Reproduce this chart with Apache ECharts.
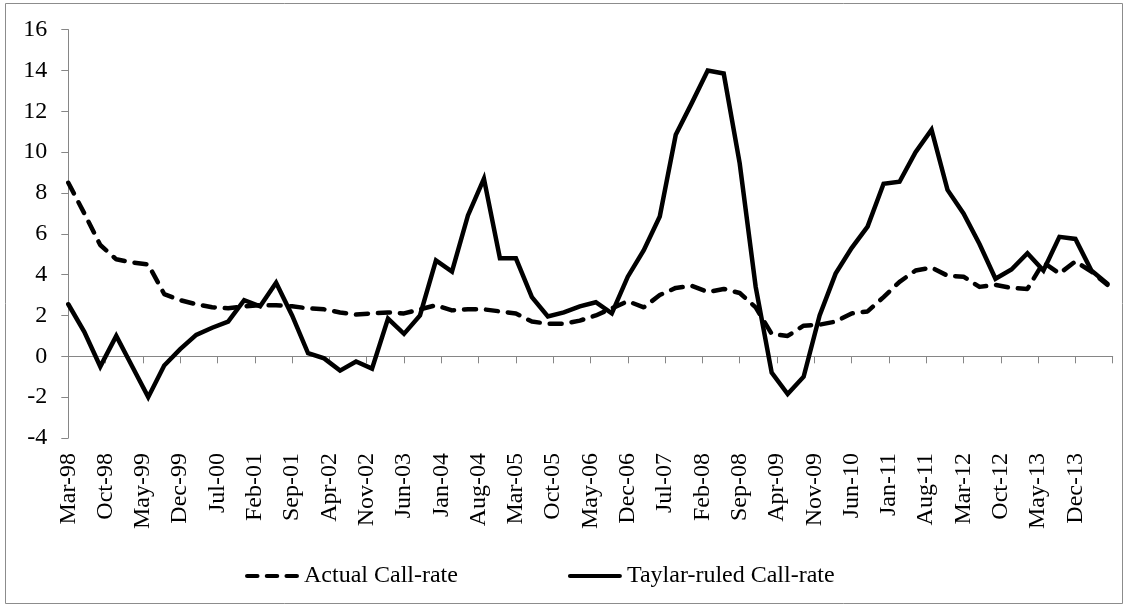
<!DOCTYPE html>
<html>
<head>
<meta charset="utf-8">
<script src="https://cdn.jsdelivr.net/npm/echarts@6/dist/echarts.min.js"></script>
<style>
html,body{margin:0;padding:0;background:#fff;}
#chart{width:1129px;height:608px;}
</style>
</head>
<body>
<div id="chart"></div>
<script>
// Quarterly observation dates
const quarters = [
  'Mar-98','Jun-98','Sep-98','Dec-98',
  'Mar-99','Jun-99','Sep-99','Dec-99',
  'Mar-00','Jun-00','Sep-00','Dec-00',
  'Mar-01','Jun-01','Sep-01','Dec-01',
  'Mar-02','Jun-02','Sep-02','Dec-02',
  'Mar-03','Jun-03','Sep-03','Dec-03',
  'Mar-04','Jun-04','Sep-04','Dec-04',
  'Mar-05','Jun-05','Sep-05','Dec-05',
  'Mar-06','Jun-06','Sep-06','Dec-06',
  'Mar-07','Jun-07','Sep-07','Dec-07',
  'Mar-08','Jun-08','Sep-08','Dec-08',
  'Mar-09','Jun-09','Sep-09','Dec-09',
  'Mar-10','Jun-10','Sep-10','Dec-10',
  'Mar-11','Jun-11','Sep-11','Dec-11',
  'Mar-12','Jun-12','Sep-12','Dec-12',
  'Mar-13','Jun-13','Sep-13','Dec-13',
  'Mar-14','Jun-14'
];
// Actual Call-rate
const actualCallRate = [
  8.5, 7.0, 5.45, 4.75, 4.6, 4.5, 3.05, 2.75, 2.55, 2.4, 2.35, 2.45,
  2.5, 2.5, 2.45, 2.35, 2.3, 2.15, 2.05, 2.1, 2.15, 2.1, 2.3, 2.5,
  2.25, 2.3, 2.3, 2.2, 2.1, 1.7, 1.6, 1.6, 1.75, 2.0, 2.35, 2.7,
  2.4, 3.0, 3.35, 3.45, 3.15, 3.3, 3.1, 2.4, 1.1, 1.0, 1.5, 1.55,
  1.7, 2.1, 2.2, 2.9, 3.65, 4.2, 4.35, 3.95, 3.9, 3.4, 3.5, 3.35,
  3.3, 4.6, 4.05, 4.65, 4.15, 3.5
];
// Taylar-ruled Call-rate
const taylorCallRate = [
  2.55, 1.2, -0.5, 1.0, -0.5, -2.0, -0.45, 0.35, 1.05, 1.4, 1.7, 2.75,
  2.45, 3.6, 2.0, 0.15, -0.1, -0.7, -0.25, -0.6, 1.85, 1.1, 2.0, 4.7,
  4.15, 6.9, 8.7, 4.8, 4.8, 2.9, 1.95, 2.15, 2.45, 2.65, 2.1, 3.9,
  5.2, 6.85, 10.85, 12.4, 14.0, 13.85, 9.45, 3.4, -0.8, -1.85, -1.0, 2.0,
  4.05, 5.3, 6.35, 8.45, 8.55, 10.0, 11.1, 8.15, 7.0, 5.5, 3.8, 4.25,
  5.05, 4.2, 5.85, 5.75, 4.2, 3.55
];
// X-axis tick labels (every 7 months from Mar-98)
const tickLabels = [
  'Mar-98','Oct-98','May-99','Dec-99','Jul-00','Feb-01','Sep-01','Apr-02',
  'Nov-02','Jun-03','Jan-04','Aug-04','Mar-05','Oct-05','May-06','Dec-06',
  'Jul-07','Feb-08','Sep-08','Apr-09','Nov-09','Jun-10','Jan-11','Aug-11',
  'Mar-12','Oct-12','May-13','Dec-13'
];
const yTicks = { min: -4, max: 16, step: 2 };
const seriesNames = ['Actual Call-rate', 'Taylar-ruled Call-rate'];

const monthNames = ['Jan','Feb','Mar','Apr','May','Jun','Jul','Aug','Sep','Oct','Nov','Dec'];
function monthOffset(s) {
  const [m, y] = s.split('-');
  return (1900 + Number(y) + (Number(y) < 50 ? 100 : 0) - 1998) * 12 + monthNames.indexOf(m) - 2;
}
const xs = quarters.map(monthOffset);
const actualData = xs.map((x, i) => [x, actualCallRate[i]]);
const taylorData = xs.map((x, i) => [x, taylorCallRate[i]]);

const FONT = '"Liberation Serif", "Times New Roman", serif';
const AXIS_GRAY = '#868686';
const X_STEP = 7;

const DASH_ICON = 'path://M2,0h10a2,2 0 0 1 0,4h-10a2,2 0 0 1 0,-4z M21,0h10a2,2 0 0 1 0,4h-10a2,2 0 0 1 0,-4z M40,0h10a2,2 0 0 1 0,4h-10a2,2 0 0 1 0,-4z';
const SOLID_ICON = 'path://M2,0h48a2,2 0 0 1 0,4h-48a2,2 0 0 1 0,-4z';

const chart = echarts.init(document.getElementById('chart'), null, { renderer: 'canvas' });
chart.setOption({
  animation: false,
  backgroundColor: '#fff',
  graphic: [{
    type: 'rect',
    shape: { x: 5.5, y: 3.5, width: 1117, height: 600 },
    style: { fill: 'none', stroke: '#8c8c8c', lineWidth: 1 },
    silent: true
  }],
  grid: { left: 68.3, right: 16.3, top: 29.6, bottom: 170 },
  legend: {
    left: 240, top: 559,
    itemWidth: 54, itemHeight: 5, itemGap: 110,
    textStyle: { fontFamily: FONT, fontSize: 24, color: '#000' },
    data: [
      { name: seriesNames[0], icon: DASH_ICON, itemStyle: { color: '#000' } },
      { name: seriesNames[1], icon: SOLID_ICON, itemStyle: { color: '#000' } }
    ]
  },
  xAxis: [{
    type: 'value', min: 0, max: tickLabels.length * X_STEP, interval: X_STEP,
    position: 'bottom',
    axisLine: { onZero: true, lineStyle: { color: AXIS_GRAY, width: 1 } },
    axisTick: { show: true, inside: false, length: 7, lineStyle: { color: AXIS_GRAY } },
    axisLabel: { show: false },
    splitLine: { show: false }
  }, {
    type: 'value', min: 0, max: tickLabels.length * X_STEP, interval: X_STEP,
    position: 'bottom',
    axisLine: { show: false, onZero: false },
    axisTick: { show: false },
    splitLine: { show: false },
    axisLabel: {
      rotate: 90, margin: 15,
      fontFamily: FONT, fontSize: 24, color: '#000',
      showMaxLabel: true,
      formatter: v => tickLabels[Math.round(v / X_STEP)] || ''
    }
  }],
  yAxis: {
    type: 'value', min: yTicks.min, max: yTicks.max, interval: yTicks.step,
    axisLine: { show: true, lineStyle: { color: AXIS_GRAY, width: 1 } },
    axisTick: { show: true, length: 7, lineStyle: { color: AXIS_GRAY } },
    axisLabel: { margin: 21, fontFamily: FONT, fontSize: 24, color: '#000' },
    splitLine: { show: false }
  },
  series: [{
    name: seriesNames[0],
    type: 'line', xAxisIndex: 0,
    data: actualData,
    symbol: 'none', smooth: false,
    lineStyle: { color: '#000', width: 4.5, type: [12, 10], cap: 'round', join: 'round' },
    itemStyle: { color: '#000' }
  }, {
    name: seriesNames[1],
    type: 'line', xAxisIndex: 0,
    data: taylorData,
    symbol: 'none', smooth: false,
    lineStyle: { color: '#000', width: 4.5, type: 'solid', cap: 'round', join: 'miter' },
    itemStyle: { color: '#000' }
  }]
});
</script>
</body>
</html>
